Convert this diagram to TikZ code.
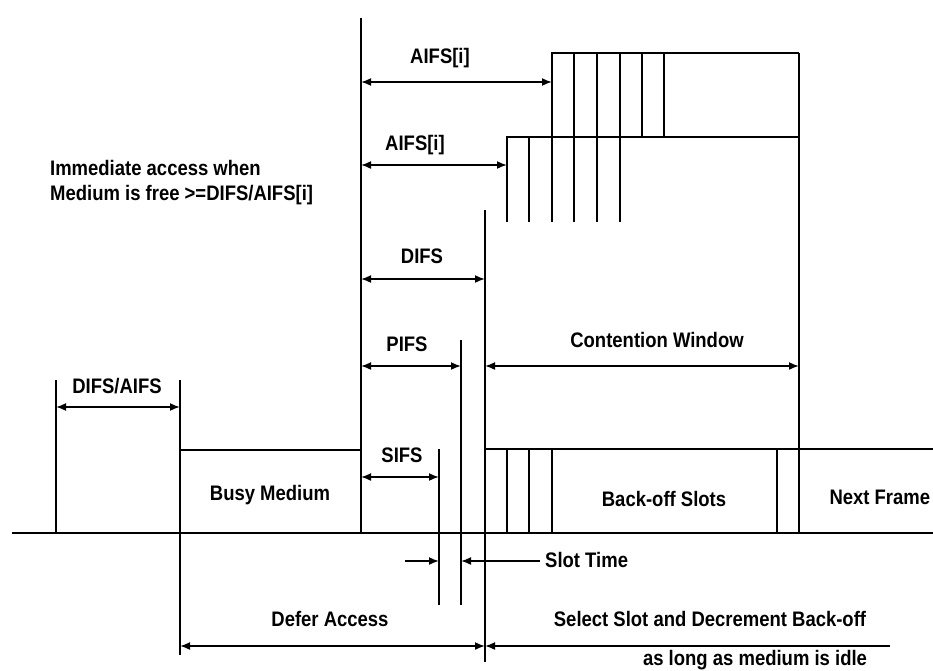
\documentclass[tikz,border=0pt]{standalone}
\usepackage{fontspec}
\setmainfont{Liberation Sans}[FakeStretch=0.88]
\usetikzlibrary{arrows.meta}

\begin{document}
\begin{tikzpicture}[x=1pt, y=-1pt, >={Latex[length=10pt,width=8pt]},
    line width=1.7pt,
    every node/.style={font=\fontsize{21}{25}\selectfont\bfseries},
    dim/.style={<->}]
    \useasboundingbox (0,0) rectangle (933,670);

    % --- 1. coordinates ---
    \coordinate (L0)  at (12, 533);    % start of time axis
    \coordinate (R0)  at (933, 533);   % end of time axis
    \coordinate (T0)  at (56, 533);    % earlier frame end
    \coordinate (TB)  at (180, 533);   % busy medium start
    \coordinate (TE)  at (361, 533);   % busy medium end
    \coordinate (TS)  at (439, 533);   % SIFS
    \coordinate (TP)  at (461, 533);   % PIFS
    \coordinate (TD)  at (485, 533);   % DIFS
    \coordinate (TW)  at (799, 533);   % end of contention window

    % --- 2. axis and boundaries ---
    \draw (L0) -- (R0);
    \draw (T0) -- (56, 380);
    \draw (180, 380) -- (180, 655);
    \draw (TE) -- (361, 18);
    \draw (439, 449) -- (439, 605);
    \draw (461, 340) -- (461, 605);
    \draw (485, 210) -- (485, 662);
    \draw (TW) -- (799, 53);

    % busy medium
    \draw (180, 450) -- (361, 450);
    \node (busy) at (270, 495) {Busy Medium};

    % back-off slots and next frame
    \draw (485, 449) -- (933, 449);
    \foreach \x in {507, 529, 552, 777}
        \draw (\x, 449) -- (\x, 533);
    \node (slots) at (664, 499) {Back-off Slots};
    \node[anchor=east, inner sep=1pt] (next) at (932, 497) {Next Frame};

    % AIFS slot ladders
    \draw (552, 222) -- (552, 53) -- (799, 53);
    \foreach \x in {574, 597, 620}
        \draw (\x, 53) -- (\x, 222);
    \foreach \x in {642, 664}
        \draw (\x, 53) -- (\x, 137);
    \draw (507, 222) -- (507, 137) -- (799, 137);
    \draw (529, 137) -- (529, 222);

    % --- 3. dimension arrows and labels ---
    \draw[dim] (56, 407) -- (180, 407);
    \node (difsaifs) at (117, 386) {DIFS/AIFS};

    \draw[dim] (361, 82) -- (552, 82);
    \node (aifs1) at (440, 58) {AIFS[i]};
    \draw[dim] (361, 165) -- (507, 165);
    \node (aifs2) at (415, 145) {AIFS[i]};

    \node[anchor=west, align=left] (imm) at (46, 183)
        {Immediate access when\\Medium is free >=DIFS/AIFS[i]};

    \draw[dim] (361, 279) -- (485, 279);
    \node (difs) at (422, 256) {DIFS};
    \draw[dim] (361, 366) -- (461, 366);
    \node (pifs) at (407, 344) {PIFS};
    \draw[dim] (485, 366) -- (799, 366);
    \node (cw) at (657, 340) {Contention Window};
    \draw[dim] (361, 477) -- (439, 477);
    \node (sifs) at (402, 455) {SIFS};

    % slot time
    \draw[->] (405, 561) -- (439, 561);
    \draw[->] (540, 561) -- (461, 561);
    \node[anchor=west] (slottime) at (541, 560) {Slot Time};

    % defer / back-off
    \draw[dim] (180, 646) -- (485, 646);
    \node (defer) at (330, 619) {Defer Access};
    \draw[->] (890, 646) -- (485, 646);
    \node (select) at (710, 619) {Select Slot and Decrement Back-off};
    \node (idle) at (755, 660) {as long as medium is idle};

\end{tikzpicture}
\end{document}
